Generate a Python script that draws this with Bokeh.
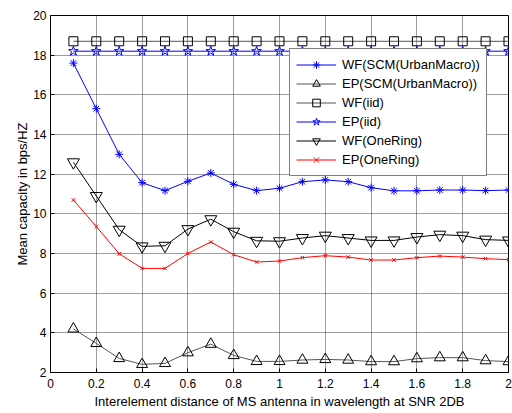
from bokeh.plotting import figure
from bokeh.models import Legend, LegendItem, FixedTicker, Range1d
from bokeh.embed import file_html
from bokeh.resources import INLINE

# ---- data ----
x_vals = [0.1, 0.2, 0.3, 0.4, 0.5, 0.6, 0.7, 0.8, 0.9, 1.0,
          1.1, 1.2, 1.3, 1.4, 1.5, 1.6, 1.7, 1.8, 1.9, 2.0]
wf_scm = [17.6, 15.3, 13.0, 11.57, 11.17, 11.64, 12.06, 11.49, 11.17, 11.29,
          11.62, 11.71, 11.62, 11.32, 11.16, 11.16, 11.2, 11.2, 11.17, 11.2]
ep_scm = [4.2, 3.47, 2.71, 2.41, 2.46, 3.0, 3.43, 2.86, 2.56, 2.56,
          2.63, 2.66, 2.63, 2.55, 2.55, 2.7, 2.75, 2.75, 2.6, 2.55]
wf_iid = [18.7] * 20
ep_iid = [18.2] * 20
wf_one = [12.6, 10.9, 9.2, 8.36, 8.39, 9.23, 9.73, 9.1, 8.64, 8.62,
          8.78, 8.9, 8.78, 8.66, 8.66, 8.83, 8.95, 8.9, 8.7, 8.66]
ep_one = [10.7, 9.36, 7.99, 7.25, 7.25, 8.0, 8.58, 7.94, 7.57, 7.62,
          7.79, 7.89, 7.82, 7.67, 7.67, 7.79, 7.87, 7.82, 7.74, 7.69]

x_ticks = [0, 0.2, 0.4, 0.6, 0.8, 1.0, 1.2, 1.4, 1.6, 1.8, 2.0]
x_tick_labels = ["0", "0.2", "0.4", "0.6", "0.8", "1", "1.2", "1.4", "1.6", "1.8", "2"]
y_ticks = [2, 4, 6, 8, 10, 12, 14, 16, 18, 20]

FONT = "Liberation Sans"

p = figure(width=512, height=411, output_backend="svg", toolbar_location=None,
           x_range=Range1d(0, 2), y_range=Range1d(2, 20),
           min_border_left=50, min_border_right=4, min_border_top=15, min_border_bottom=38)
p.background_fill_color = "white"
p.border_fill_color = "white"
p.outline_line_color = "black"
p.outline_line_width = 1

p.xaxis.ticker = FixedTicker(ticks=x_ticks)
p.xaxis.major_label_overrides = {t: l for t, l in zip(x_ticks, x_tick_labels)}
p.yaxis.ticker = FixedTicker(ticks=y_ticks)
p.yaxis.major_label_overrides = {t: str(t) for t in y_ticks}

for ax in (p.xaxis[0], p.yaxis[0]):
    ax.major_tick_in = 4
    ax.major_tick_out = 0
    ax.minor_tick_line_color = None
    ax.axis_line_color = "black"
    ax.major_tick_line_color = "black"
    ax.major_label_text_font = FONT
    ax.major_label_text_font_size = "12px"
    ax.major_label_text_color = "black"
    ax.axis_label_text_font = FONT
    ax.axis_label_text_font_size = "13px"
    ax.axis_label_text_font_style = "normal"
    ax.axis_label_text_color = "black"

p.xaxis.axis_label = "Interelement distance of MS antenna in wavelength at SNR 2DB"
p.yaxis.axis_label = "Mean capacity in bps/HZ"
p.xaxis.major_label_standoff = 6
p.xaxis.axis_label_standoff = 3
p.yaxis.major_label_standoff = 4
p.yaxis.axis_label_standoff = 0

p.grid.grid_line_color = "#3a3a3a"
p.grid.grid_line_dash = "1 1"
p.grid.grid_line_width = 1

items = []

def series(ys, label, line_color, marker, size, marker_color, fill=None):
    l = p.line(x_vals, ys, line_color=line_color, line_width=1)
    s = p.scatter(x_vals, ys, marker=marker, size=size, line_color=marker_color,
                  fill_color=fill, line_width=1)
    items.append(LegendItem(label=label, renderers=[l, s]))

series(wf_scm, "WF(SCM(UrbanMacro))", "#0000ff", "asterisk", 8, "#0000ff")
series(ep_scm, "EP(SCM(UrbanMacro))", "#555555", "triangle", 11, "black")
series(wf_iid, "WF(iid)", "#555555", "square", 9, "black")
series(ep_iid, "EP(iid)", "#0000ff", "star", 10, "#0000ff")
series(wf_one, "WF(OneRing)", "black", "inverted_triangle", 12, "black")
series(ep_one, "EP(OneRing)", "#ff0000", "x", 5, "#ff0000")

legend = Legend(items=items, location=(239, 196))
legend.label_text_font = FONT
legend.label_text_font_size = "13px"
legend.label_text_color = "black"
legend.glyph_width = 40
legend.glyph_height = 19
legend.label_height = 19
legend.label_standoff = 6
legend.spacing = 0
legend.padding = 6
legend.margin = 0
legend.border_line_color = "black"
legend.border_line_width = 1
legend.background_fill_color = "white"
legend.background_fill_alpha = 1
p.add_layout(legend, "center")

open("out.html", "w").write(file_html(p, INLINE))
